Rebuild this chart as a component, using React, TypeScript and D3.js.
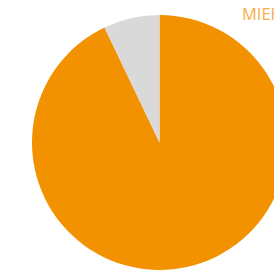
import { useEffect, useRef } from 'react';
import * as d3 from 'd3';

const categories = ['MIEHET', 'NAISET'];
const values = [92.9, 7.1];
const colors = ['#f39200', '#d9d9d9'];

export default function App() {
  const svgRef = useRef<SVGSVGElement>(null);

  useEffect(() => {
    if (!svgRef.current) return;
    const width = 274;
    const height = 272;
    const svg = d3.select(svgRef.current);
    svg.selectAll('*').remove();

    const cx = 159.5;
    const cy = 142.5;
    const radius = 127.5;

    const pie = d3
      .pie<number>()
      .sort(null)
      .startAngle(0)
      .endAngle(Math.PI * 2);
    const arc = d3.arc<d3.PieArcDatum<number>>().innerRadius(0).outerRadius(radius);

    const g = svg.append('g').attr('transform', `translate(${cx},${cy})`);
    g.selectAll('path')
      .data(pie(values))
      .enter()
      .append('path')
      .attr('d', arc)
      .attr('fill', (_, i) => colors[i]);

    // Legend label (clipped by the frame, as in the reference)
    svg
      .append('text')
      .attr('x', 242)
      .attr('y', 20)
      .attr('fill', '#f7ae48')
      .attr('font-family', 'Open Sans, sans-serif')
      .attr('font-size', 16.5)
      .text(categories[0]);

    svg.attr('width', width).attr('height', height);
  }, []);

  return (
    <div style={{ position: 'fixed', left: 0, top: 0, width: 274, height: 272, overflow: 'hidden', background: '#fff' }}>
      <svg ref={svgRef} style={{ display: 'block' }} />
    </div>
  );
}
